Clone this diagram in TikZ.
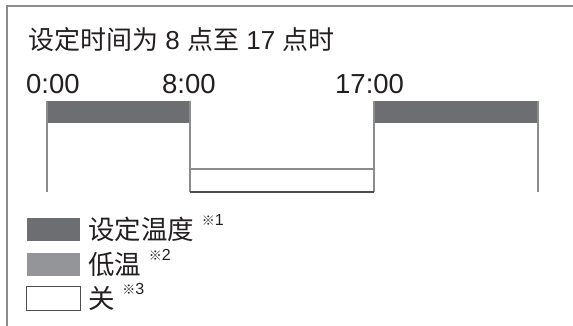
\documentclass[tikz,border=0pt]{standalone}
\usepackage{fontspec}
\setmainfont{Liberation Sans}
\newfontfamily\cjk{Noto Sans CJK SC}
\usetikzlibrary{positioning}

\definecolor{setgray}{HTML}{6D6E71}
\definecolor{lowgray}{HTML}{939598}
\definecolor{linegray}{HTML}{8C8C8C}
\definecolor{edgegray}{HTML}{4D4D4D}
\definecolor{inkblack}{HTML}{231F20}

\begin{document}
\begin{tikzpicture}[x=1pt,y=-1pt,
  tline/.style={linegray, line width=1.2pt},
  keybox/.style={minimum width=53pt, minimum height=23pt, inner sep=0pt},
  keytext/.style={inner sep=0pt, text=inkblack, font=\cjk\fontsize{26.5}{30}\selectfont},
  notetext/.style={inner sep=0pt, text=inkblack, font=\fontsize{16}{17}\selectfont}]
\useasboundingbox (0,0) rectangle (573,326);

%==================== 外框 ====================
\draw[linegray, line width=2pt] (7,340) -- (7,6) -- (600,6);

%==================== 标题 ====================
\node[anchor=base west, inner sep=0pt, text=inkblack,
      font=\fontsize{26}{30}\selectfont] (title) at (28,49.5)
  {{\cjk 设定时间为} 8 {\cjk 点至} 17 {\cjk 点时}};

% 时刻
\foreach \x/\t/\n in {26/0:00/a,162/8:00/b,335/17:00/c}
{
    \node[anchor=base west, inner sep=0pt, text=inkblack,
          font=\fontsize{27.5}{30}\selectfont] (time\n) at (\x,94) {\t};
}

%==================== 时间表 ====================
\fill[setgray] (47,101) rectangle (190,123);
\fill[setgray] (374,101) rectangle (538,123);

\foreach \x in {47,190,374,538}
{
    \draw[tline] (\x,101) -- (\x,192);
}

% 关的时段
\draw[tline] (190,169) -- (374,169);
\draw[edgegray, line width=1.2pt] (190,192) -- (374,192);

%==================== 图例 ====================
\foreach \i/\y/\col/\txt in {
1/229.5/setgray/设定温度,2/264.5/lowgray/低温,3/298.5/white/关
}{
    \node[keybox, fill=\col] (key\i) at (53.5,\y) {};
    \node[keytext, right=8pt of key\i] (lbl\i) {\txt};
    \node[notetext, anchor=north west] (note\i)
      at ([xshift=7pt,yshift=3pt]lbl\i.north east) {{\cjk\fontsize{13}{14}\selectfont ※}\i};
}
\draw[edgegray, line width=1.2pt] (key3.north west) rectangle (key3.south east);

\end{tikzpicture}
\end{document}
